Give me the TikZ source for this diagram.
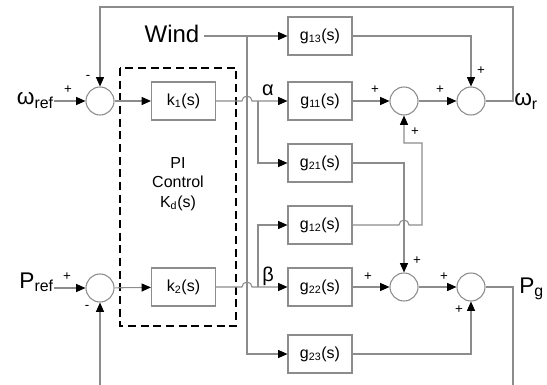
\documentclass[tikz,border=0pt]{standalone}
\usepackage{fontspec}
\setmainfont{Liberation Sans}
\usetikzlibrary{arrows.meta,positioning}
\definecolor{wiregray}{HTML}{8C8C8C}

\tikzset{
  blk/.style={draw=wiregray,line width=0.8pt,minimum width=48pt,minimum height=28.5pt,inner sep=0pt,font=\fontsize{12}{14}\selectfont},
  sumnode/.style={circle,draw=wiregray,line width=0.8pt,minimum size=21pt,inner sep=0pt},
  wire/.style={wiregray,line width=0.8pt},
  arr/.style={wire,-{Triangle[color=black,length=7pt,width=6pt]}},
  sign/.style={font=\fontsize{10}{10}\selectfont,inner sep=0pt},
  biglbl/.style={font=\fontsize{17}{17}\selectfont,inner sep=0pt},
  greek/.style={font=\fontsize{15}{15}\selectfont,inner sep=0pt},
}

\begin{document}
\begin{tikzpicture}[x=0.75pt,y=-0.75pt]
    \useasboundingbox (0,0) rectangle (547,385);
    % summing junctions
    \node[sumnode] (sumw) at (100,101) {};
    \node[sumnode] (sump) at (100,288) {};
    \node[sumnode] (sumwa) at (404,101) {};
    \node[sumnode] (sumwb) at (471,101) {};
    \node[sumnode] (sumpa) at (404,287) {};
    \node[sumnode] (sumpb) at (471,287) {};
    % controller
    \draw[line width=1pt,dash pattern=on 6pt off 3.5pt] (120,68) rectangle (236,326);
    \node[blk] (k1) at (183.5,101) {k\textsubscript{1}(s)};
    \node[blk] (k2) at (183.5,287) {k\textsubscript{2}(s)};
    \node[font=\fontsize{12}{14.5}\selectfont,align=center] (pi) at (178,184) {PI\\Control\\K\textsubscript{d}(s)};
    % plant
    \node[blk] (g13) at (320,36) {g\textsubscript{13}(s)};
    \node[blk] (g11) at (320,101) {g\textsubscript{11}(s)};
    \node[blk] (g21) at (320,163) {g\textsubscript{21}(s)};
    \node[blk] (g12) at (320,225) {g\textsubscript{12}(s)};
    \node[blk] (g22) at (320,287) {g\textsubscript{22}(s)};
    \node[blk] (g23) at (320,354) {g\textsubscript{23}(s)};
    % labels
    \node[biglbl,anchor=base east] (wref) at (54,105) {ω\textsubscript{ref}};
    \node[biglbl,anchor=base east] (pref) at (54,288) {P\textsubscript{ref}};
    \node[biglbl,anchor=base west] (wr) at (514,106) {ω\textsubscript{r}};
    \node[biglbl,anchor=base west] (pg) at (519,293) {P\textsubscript{g}};
    \node[font=\fontsize{18}{18}\selectfont] (wind) at (172,34) {Wind};
    \node[greek] (alpha) at (268,90) {α};
    \node[greek] (beta) at (268,276) {β};
    % inputs
    \draw[arr] (wref.east |- sumw) -- (sumw.west);
    \draw[arr] (pref.east |- sump) -- (sump.west);
    \draw[arr] (sumw) -- (k1);
    \draw[arr] (sump) -- (k2);
    % wind bus
    \coordinate (bus) at (247,36);
    \draw[arr] (wind.east |- g13) -- (g13.west);
    \draw[arr] (bus) |- (g23.west);
    % alpha and beta, hopping over the bus
    \coordinate (hopa) at (242,101);
    \coordinate (hopb) at (242,287);
    \coordinate (ja) at (258,101);
    \coordinate (jb) at (258,287);
    \draw[arr] (k1.east) -- (hopa) arc[start angle=180,end angle=0,radius=3.75pt] -- (g11.west);
    \draw[arr] (ja) |- (g21.west);
    \draw[arr] (k2.east) -- (hopb) arc[start angle=180,end angle=0,radius=3.75pt] -- (g22.west);
    \draw[arr] (jb) |- (g12.west);
    % outputs
    \draw[arr] (g13.east) -| (sumwb.north);
    \draw[arr] (g11) -- (sumwa);
    \draw[arr] (sumwa) -- (sumwb);
    \draw[arr] (g21.east) -| (sumpa.north);
    \coordinate (hopc) at (399,225);
    \coordinate (c12) at (422,225);
    \coordinate (c12t) at (422,143);
    \draw[arr] (g12.east) -- (hopc) arc[start angle=180,end angle=0,radius=3.75pt] -- (c12) -- (c12t) -| (sumwa.south);
    \draw[arr] (g22) -- (sumpa);
    \draw[arr] (sumpa) -- (sumpb);
    \draw[arr] (g23.east) -| (sumpb.south);
    % feedback
    \coordinate (ftop) at (513,7);
    \coordinate (fbot) at (513,385);
    \coordinate (pbot) at (100,385);
    \draw[arr] (sumwb.east) -- (ftop |- sumwb) -- (ftop) -| (sumw.north);
    \draw[wire] (sumpb.east) -- (fbot |- sumpb) -- (fbot);
    \draw[arr] (pbot) -- (sump.south);
    % signs
    \node[sign] (sg1) at (68,90) {+};
    \node[sign] (sg2) at (88,77) {-};
    \node[sign] (sg3) at (67,277) {+};
    \node[sign] (sg4) at (87,307) {-};
    \node[sign] (sg5) at (375,90) {+};
    \node[sign] (sg6) at (415,132) {+};
    \node[sign] (sg7) at (440,90) {+};
    \node[sign] (sg8) at (481,71) {+};
    \node[sign] (sg9) at (368,277) {+};
    \node[sign] (sg10) at (417,261) {+};
    \node[sign] (sg11) at (444,277) {+};
    \node[sign] (sg12) at (459,310) {+};
\end{tikzpicture}
\end{document}
